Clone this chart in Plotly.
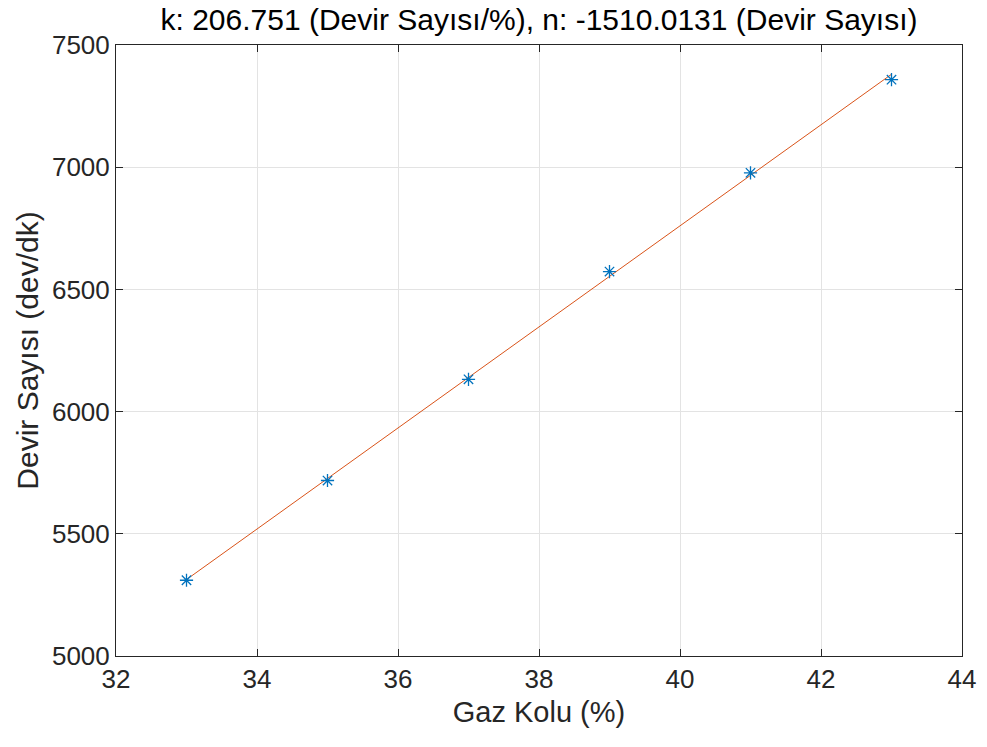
import plotly.graph_objects as go
import numpy as np

gaz_kolu = [33, 35, 37, 39, 41, 43]
devir_sayisi = [5310, 5718, 6132, 6573, 6977, 7358]
fit_k = 206.751
fit_n = -1510.0131
x_ticks = [32, 34, 36, 38, 40, 42, 44]
y_ticks = [5000, 5500, 6000, 6500, 7000, 7500]

fit_x = np.array(gaz_kolu, dtype=float)
fit_y = fit_k * fit_x + fit_n

font_family = "Liberation Sans, Arial, sans-serif"

fig = go.Figure()
fig.add_trace(go.Scatter(
    x=fit_x, y=fit_y, mode="lines",
    line=dict(color="#D95319", width=1),
    showlegend=False))
fig.add_trace(go.Scatter(
    x=gaz_kolu, y=devir_sayisi, mode="markers",
    marker=dict(symbol="asterisk-open", size=11, color="#0072BD",
                line=dict(color="#0072BD", width=1.3)),
    showlegend=False))

axis_common = dict(
    showline=True, linecolor="#262626", linewidth=1, mirror="ticks",
    ticks="inside", ticklen=7, tickcolor="#262626",
    showgrid=True, gridcolor="#E3E3E3", gridwidth=1,
    zeroline=False,
    tickfont=dict(family=font_family, size=26, color="#262626"),
)

fig.update_layout(
    width=987, height=747,
    margin=dict(l=116, r=25, t=45, b=91),
    paper_bgcolor="white", plot_bgcolor="white",
    title=dict(text=f"k: {fit_k} (Devir Sayısı/%), n: {fit_n} (Devir Sayısı)",
               x=0.5, xref="paper", xanchor="center",
               y=1 - 19 / 747, yanchor="middle",
               font=dict(family=font_family, size=30, color="black")),
    xaxis=dict(range=[32, 44], tickvals=x_ticks,
               title=dict(text="Gaz Kolu (%)", standoff=8,
                          font=dict(family=font_family, size=29, color="#262626")),
               **axis_common),
    yaxis=dict(range=[5000, 7500], tickvals=y_ticks,
               title=dict(text="Devir Sayısı (dev/dk)", standoff=4,
                          font=dict(family=font_family, size=30, color="#262626")),
               **axis_common),
)

fig.write_html("out.html")
